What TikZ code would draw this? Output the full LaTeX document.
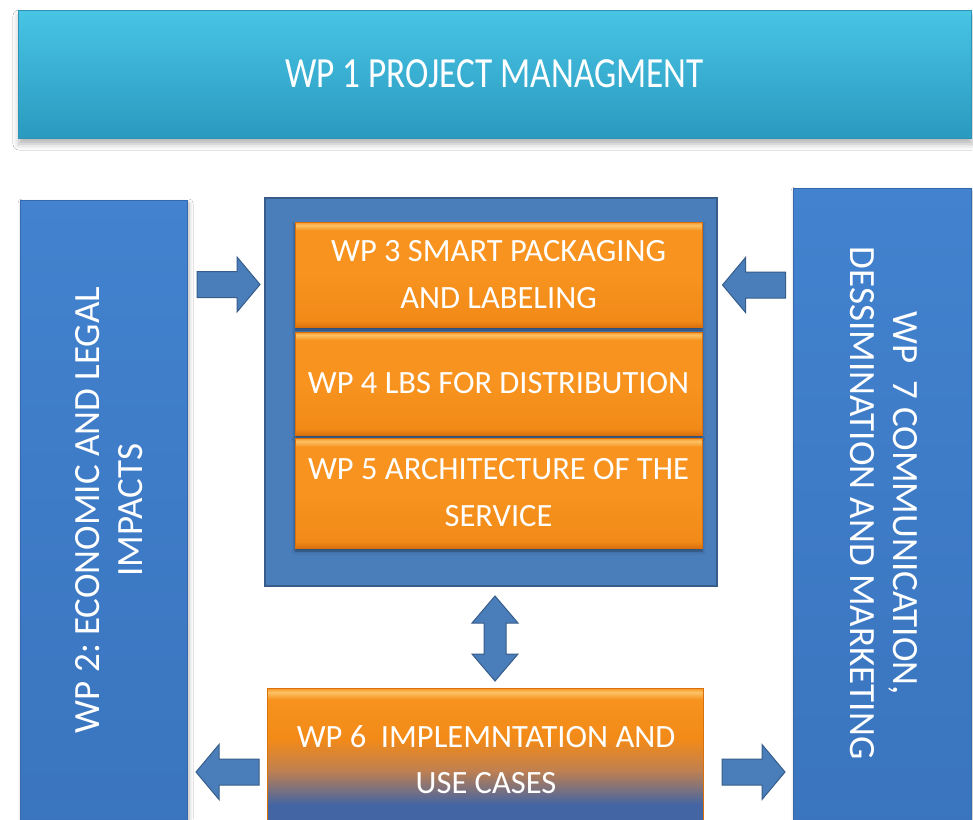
\documentclass[tikz,border=0pt]{standalone}
\usepackage{fontspec}
\setmainfont{Carlito}
\usetikzlibrary{shadows.blur}
\frenchspacing

\definecolor{barTop}{HTML}{48C4E5}
\definecolor{barBot}{HTML}{2A9ABF}
\definecolor{barEdge}{HTML}{2C93B5}
\definecolor{sideTop}{HTML}{4282CE}
\definecolor{sideBot}{HTML}{3A74BE}
\definecolor{sideEdge}{HTML}{3568AC}
\definecolor{hubBlue}{HTML}{4A7EBB}
\definecolor{hubEdge}{HTML}{385D8A}
\definecolor{orTop}{HTML}{FCC265}
\definecolor{orMid}{HTML}{F7931E}
\definecolor{orLow}{HTML}{F28A18}
\definecolor{orBot}{HTML}{D9700C}
\definecolor{tan}{HTML}{C08050}
\definecolor{slate}{HTML}{4465A3}

% orange work-package bars: bright body, thin light rim on top, darker foot
\pgfdeclareverticalshading{orangebar}{100bp}{%
  color(0bp)=(orBot); color(25bp)=(orBot); color(28bp)=(orLow);
  color(50bp)=(orMid); color(71bp)=(orMid); color(73.5bp)=(orTop);
  color(75bp)=(orMid); color(100bp)=(orMid)}
% implementation bar: orange fading into blue at the foot
\pgfdeclareverticalshading{orangeblue}{100bp}{%
  color(0bp)=(slate); color(25bp)=(slate); color(34bp)=(slate);
  color(46bp)=(tan); color(57bp)=(orLow); color(71bp)=(orMid);
  color(73.5bp)=(orTop); color(75bp)=(orMid); color(100bp)=(orMid)}

\begin{document}
\begin{tikzpicture}[x=1pt,y=-1pt,
  base/.style={rectangle, inner sep=0pt, outer sep=0pt, text=white, align=center},
  topbar/.style={base, top color=barTop, bottom color=barBot, draw=barEdge, line width=0.8pt,
    blur shadow={shadow xshift=1pt, shadow yshift=-6pt, shadow blur radius=6pt, shadow opacity=30},
    font=\fontsize{43}{50}\selectfont},
  sidebox/.style={base, top color=sideTop, bottom color=sideBot, draw=sideEdge, line width=0.8pt,
    blur shadow={shadow xshift=2pt, shadow yshift=-3pt, shadow blur radius=4pt, shadow opacity=30}},
  hub/.style={base, fill=hubBlue, draw=hubEdge, line width=1.5pt},
  orangebox/.style={base, shading=orangebar, draw=orBot, line width=0.5pt,
    blur shadow={shadow xshift=0pt, shadow yshift=-3pt, shadow blur radius=3pt, shadow opacity=45},
    font=\fontsize{32.5}{47}\selectfont},
  implbox/.style={base, shading=orangeblue, draw=orBot, line width=0.5pt},
  label/.style={base, font=\fontsize{37}{43}\selectfont},
  boxlabel/.style={base, font=\fontsize{32.5}{46}\selectfont},
  arrowbody/.style={fill=hubBlue, draw=hubEdge, line width=1pt, line join=miter},
  % block arrow pointing along +x, centred on the pic origin
  flow/.pic={
    \draw[arrowbody] (-31.5,-13) -- (8.5,-13) -- (8.5,-27.5) -- (31.5,0)
      -- (8.5,27.5) -- (8.5,13) -- (-31.5,13) -- cycle;},
  % double-headed block arrow along the y axis
  link/.pic={
    \draw[arrowbody] (-11,-15.5) -- (-23,-15.5) -- (0,-42.5) -- (23,-15.5) -- (11,-15.5)
      -- (11,15.5) -- (23,15.5) -- (0,42.5) -- (-23,15.5) -- (-11,15.5) -- cycle;}]

\useasboundingbox (0,0) rectangle (973,819);
\fill[white] (0,0) rectangle (973,819);
\clip (0,0) rectangle (973,819);

% project management banner
\node[topbar, anchor=north west, minimum width=953pt, minimum height=128pt] (wp1) at (18,10)
  {\scalebox{0.82}[1]{WP 1 PROJECT MANAGMENT}};

% side columns
\node[sidebox, anchor=north west, minimum width=167pt, minimum height=640pt] (wp2) at (20,200) {};
\node[label, rotate=90] (wp2text) at (109,510) {WP 2: ECONOMIC AND LEGAL\\IMPACTS};
\node[sidebox, anchor=north west, minimum width=178pt, minimum height=650pt] (wp7) at (793,188) {};
\node[label, rotate=-90] (wp7text) at (884,503) {WP \ 7 COMMUNICATION,\\DESSIMINATION AND MARKETING};

% central block with the technical work packages
\node[hub, anchor=north west, minimum width=452pt, minimum height=388pt] (hub) at (265,198) {};
\node[orangebox, anchor=north west, minimum width=407pt, minimum height=105pt] (wp3) at (295,222)
  {WP 3 SMART PACKAGING\\AND LABELING};
\node[orangebox, anchor=north west, minimum width=407pt, minimum height=103pt] (wp4) at (295,332)
  {WP 4 LBS FOR DISTRIBUTION};
\node[orangebox, anchor=north west, minimum width=407pt, minimum height=110pt] (wp5) at (295,438)
  {WP 5 ARCHITECTURE OF THE\\SERVICE};

% implementation bar
\node[implbox, anchor=north west, minimum width=436pt, minimum height=142pt] (wp6) at (267,688) {};
\node[boxlabel] (wp6text) at (486,760) {WP 6 \ IMPLEMNTATION AND\\USE CASES};

% block arrows between the packages
\path (228.5,284.5) pic {flow};
\path (754,285) pic[rotate=180] {flow};
\path (227.5,772) pic[rotate=180] {flow};
\path (753.5,772) pic {flow};
\path (495,638.5) pic {link};

\end{tikzpicture}
\end{document}
